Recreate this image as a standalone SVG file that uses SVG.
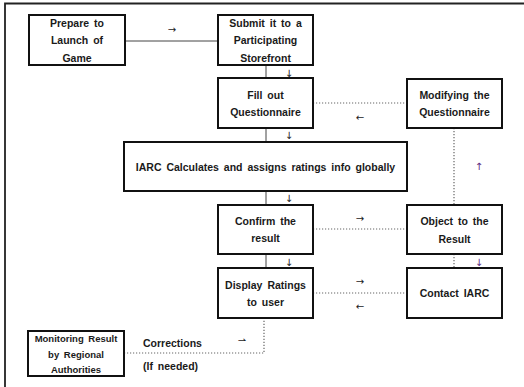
<svg xmlns="http://www.w3.org/2000/svg" width="524" height="387" viewBox="0 0 524 387">
<style>
.box{fill:#fff;stroke:#111;stroke-width:2}
.t{font-family:"Liberation Sans",Arial,sans-serif;font-size:10.5px;font-weight:bold;fill:#1a1a1a;text-anchor:middle;word-spacing:2px}
.s{font-size:9.5px}
.l{text-anchor:start}
.solid{stroke:#444;stroke-width:1;fill:none}
.dot{stroke:#666;stroke-width:1.2;fill:none;stroke-dasharray:1.2 1.8}
.ar{font-family:"DejaVu Sans",sans-serif;font-size:10px;fill:#222;text-anchor:middle}
.pu{fill:#5b2a80}
</style>
<rect width="524" height="387" fill="#fff"/>
<path d="M5 387 V3.5 H524" fill="none" stroke="#222" stroke-width="1.8"/>
<g id="connectors">
<line class="solid" x1="125" y1="41" x2="218" y2="41"/>
<line class="solid" x1="266" y1="65" x2="266" y2="78"/>
<line class="solid" x1="266" y1="128" x2="266" y2="142"/>
<line class="solid" x1="266" y1="191" x2="266" y2="205"/>
<line class="solid" x1="266" y1="254" x2="266" y2="268"/>
<line class="dot" x1="313" y1="103" x2="407" y2="103"/>
<line class="dot" x1="454" y1="128" x2="454" y2="205"/>
<line class="dot" x1="313" y1="229" x2="407" y2="229"/>
<line class="dot" x1="454" y1="254" x2="454" y2="268"/>
<line class="dot" x1="313" y1="293" x2="407" y2="293"/>
<polyline class="dot" points="124,353 264,353 264,319"/>
<text class="ar" x="172" y="33">→</text>
<text class="ar" x="289" y="77">↓</text>
<text class="ar" x="289" y="139">↓</text>
<text class="ar" x="289" y="202">↓</text>
<text class="ar" x="289" y="266">↓</text>
<text class="ar" x="360" y="121">←</text>
<text class="ar pu" x="479" y="170">↑</text>
<text class="ar" x="360" y="222">→</text>
<text class="ar" x="360" y="285">→</text>
<text class="ar" x="360" y="310">←</text>
<text class="ar pu" x="479" y="266">↓</text>
<text class="ar" x="242" y="344">⇀</text>
<text class="t l" x="143" y="347">Corrections</text>
<text class="t l" x="143" y="370">(If needed)</text>
</g>
<g id="prepare">
<rect class="box" x="29" y="15" width="96" height="50"/>
<text class="t" x="77" y="27">Prepare to</text>
<text class="t" x="77" y="44">Launch of</text>
<text class="t" x="77" y="62">Game</text>
</g>
<g id="submit">
<rect class="box" x="218" y="15" width="95" height="50"/>
<text class="t" x="265.5" y="27">Submit it to a</text>
<text class="t" x="265.5" y="44">Participating</text>
<text class="t" x="265.5" y="62">Storefront</text>
</g>
<g id="fillout">
<rect class="box" x="218" y="78" width="95" height="50"/>
<text class="t" x="265.5" y="99">Fill out</text>
<text class="t" x="265.5" y="116">Questionnaire</text>
</g>
<g id="modifying">
<rect class="box" x="407" y="79" width="95" height="49"/>
<text class="t" x="454.5" y="99">Modifying the</text>
<text class="t" x="454.5" y="116">Questionnaire</text>
</g>
<g id="iarc">
<rect class="box" x="124" y="142" width="283" height="49"/>
<text class="t" x="265.5" y="171">IARC Calculates and assigns ratings info globally</text>
</g>
<g id="confirm">
<rect class="box" x="218" y="205" width="95" height="49"/>
<text class="t" x="265.5" y="225">Confirm the</text>
<text class="t" x="265.5" y="242">result</text>
</g>
<g id="object">
<rect class="box" x="407" y="205" width="95" height="49"/>
<text class="t" x="454.5" y="225">Object to the</text>
<text class="t" x="454.5" y="243">Result</text>
</g>
<g id="display">
<rect class="box" x="218" y="268" width="95" height="50"/>
<text class="t" x="265.5" y="289">Display Ratings</text>
<text class="t" x="265.5" y="306">to user</text>
</g>
<g id="contact">
<rect class="box" x="407" y="268" width="95" height="50"/>
<text class="t" x="454.5" y="297">Contact IARC</text>
</g>
<g id="monitoring">
<rect class="box" x="28" y="331" width="96" height="45"/>
<text class="t s" x="76" y="342">Monitoring Result</text>
<text class="t s" x="76" y="358">by Regional</text>
<text class="t s" x="76" y="373">Authorities</text>
</g>
</svg>
